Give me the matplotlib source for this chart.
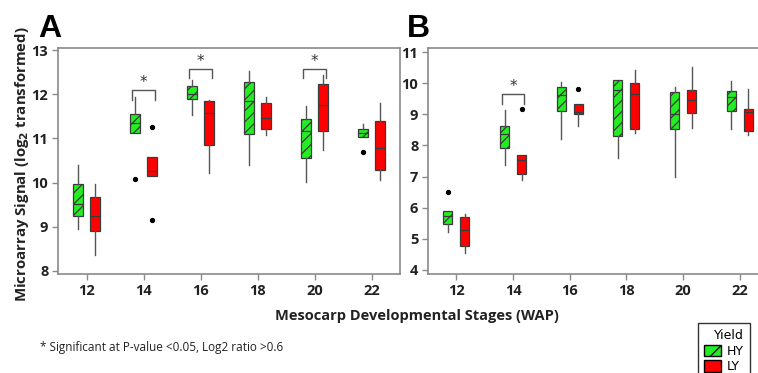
import matplotlib
matplotlib.use("Agg")
import matplotlib.pyplot as plt
from matplotlib.patches import Patch

# stages (WAP)
wap = [12, 14, 16, 18, 20, 22]

# panel A box stats: whislo, q1, med, q3, whishi
a_hy = [[8.94, 9.25, 9.51, 9.96, 10.41],
        [11.13, 11.13, 11.35, 11.56, 11.93],
        [11.53, 11.89, 12.00, 12.20, 12.32],
        [10.41, 11.11, 11.84, 12.29, 12.52],
        [10.02, 10.55, 11.16, 11.45, 11.73],
        [11.03, 11.03, 11.12, 11.21, 11.32]]
a_hy_out = [[], [10.09], [], [], [], [10.69]]
a_ly = [[8.35, 8.91, 9.25, 9.68, 9.98],
        [10.15, 10.15, 10.26, 10.57, 10.59],
        [10.22, 10.86, 11.58, 11.84, 11.88],
        [11.09, 11.22, 11.47, 11.81, 11.94],
        [10.75, 11.18, 11.77, 12.24, 12.43],
        [10.07, 10.29, 10.79, 11.39, 11.81]]
a_ly_out = [[], [11.26, 9.15], [], [], [], []]

# panel B box stats
b_hy = [[5.23, 5.49, 5.74, 5.89, 5.89],
        [7.38, 7.92, 8.37, 8.61, 9.15],
        [8.21, 9.12, 9.62, 9.87, 10.04],
        [7.61, 8.29, 9.77, 10.11, 10.11],
        [6.98, 8.52, 9.00, 9.71, 9.87],
        [8.53, 9.11, 9.57, 9.76, 10.06]]
b_hy_out = [[6.49], [], [], [], [], []]
b_ly = [[4.56, 4.77, 5.28, 5.69, 5.81],
        [6.90, 7.08, 7.53, 7.68, 7.68],
        [8.61, 9.01, 9.07, 9.33, 9.33],
        [8.41, 8.52, 9.65, 10.00, 10.43],
        [8.56, 9.04, 9.47, 9.79, 10.52],
        [8.32, 8.46, 9.08, 9.17, 9.81]]
b_ly_out = [[], [9.18], [9.82], [], [], []]

# significance brackets (stage, bracket height)
a_sig = [(14, 12.09), (16, 12.58), (20, 12.58)]
b_sig = [(14, 9.64)]

GREEN = "#22ee22"
RED = "#ff0000"
EDGE = "#3a3a3a"
SPINE = "#8a8a8a"


def stats(rows, outs):
    res = []
    for r, o in zip(rows, outs):
        res.append(dict(whislo=r[0], q1=r[1], med=r[2], q3=r[3], whishi=r[4], fliers=o))
    return res


def draw_boxes(ax, rows, outs, offset, color, hatch):
    pos = [w + offset for w in wap]
    bp = ax.bxp(stats(rows, outs), positions=pos, widths=0.32, patch_artist=True,
                showcaps=False, manage_ticks=False,
                boxprops=dict(facecolor=color, edgecolor=EDGE, linewidth=0.9, hatch=hatch),
                medianprops=dict(color=EDGE, linewidth=0.9),
                whiskerprops=dict(color="#555555", linewidth=1.0),
                flierprops=dict(marker="o", markerfacecolor="black", markeredgecolor="black",
                                markersize=2.8))
    return bp


def brackets(ax, sig, drop, star_gap):
    for s, h in sig:
        ax.plot([s - 0.4, s - 0.4, s + 0.4, s + 0.4], [h - drop, h, h, h - drop],
                color="#555555", lw=1.0)
        ax.text(s, h + star_gap, "*", ha="center", va="center", fontsize=11, color="#333333")


plt.rcParams["hatch.linewidth"] = 0.9
plt.rcParams["hatch.color"] = EDGE

W, H = 758, 373
fig = plt.figure(figsize=(W / 100, H / 100), dpi=100)
axA = fig.add_axes([58 / W, 1 - 274 / H, 342 / W, 226 / H])
axB = fig.add_axes([428 / W, 1 - 274 / H, 340 / W, 226 / H])

for ax, hy, hyo, ly, lyo in [(axA, a_hy, a_hy_out, a_ly, a_ly_out),
                             (axB, b_hy, b_hy_out, b_ly, b_ly_out)]:
    draw_boxes(ax, hy, hyo, -0.3, GREEN, "///")
    draw_boxes(ax, ly, lyo, 0.3, RED, None)
    ax.set_xlim(11, 23)
    ax.set_xticks(wap)
    for sp in ax.spines.values():
        sp.set_color(SPINE)
        sp.set_linewidth(1.2)
    ax.tick_params(direction="out", length=4, width=1, color=SPINE, labelsize=10.5,
                   labelcolor="#222222", pad=3)

axA.set_ylim(7.93, 13.05)
axA.set_yticks(range(8, 14))
axB.set_ylim(3.87, 11.13)
axB.set_yticks(range(4, 12))
for ax in (axA, axB):
    for lab in ax.get_xticklabels() + ax.get_yticklabels():
        lab.set_fontweight("bold")
        lab.set_fontfamily("Open Sans")

brackets(axA, a_sig, 0.22, 0.17)
brackets(axB, b_sig, 0.31, 0.24)

fig.text(38 / W, 1 - 37 / H, "A", fontsize=23, fontweight="bold", family="Liberation Sans")
fig.text(407 / W, 1 - 37 / H, "B", fontsize=23, fontweight="bold", family="Liberation Sans")

fig.text(22 / W, 1 - 164 / H, r"Microarray Signal (log$_\mathbf{2}$ transformed)", rotation=90,
         ha="center", va="center", fontsize=10.8, fontweight="bold", color="#222222",
         family="Open Sans")
fig.text(417 / W, 1 - 316 / H, "Mesocarp Developmental Stages (WAP)", ha="center",
         va="center", fontsize=10.5, fontweight="bold", color="#222222", family="Open Sans")
fig.text(40 / W, 1 - 348 / H, "* Significant at P-value <0.05, Log2 ratio >0.6",
         ha="left", va="center", fontsize=8.5, color="#222222", family="Open Sans")

handles = [Patch(facecolor=GREEN, edgecolor="black", hatch="//", label="HY"),
           Patch(facecolor=RED, edgecolor="black", label="LY")]
leg = fig.legend(handles=handles, title="Yield", loc="upper left",
                 bbox_to_anchor=(698 / W, 1 - 323 / H), fancybox=False, edgecolor="black",
                 fontsize=9, title_fontsize=9, handlelength=1.3, handleheight=1.0,
                 handletextpad=0.5, borderaxespad=0, labelspacing=0.2, borderpad=0.5,
                 alignment="right")
leg.get_frame().set_linewidth(1.0)

fig.savefig("out.png", dpi=100)
